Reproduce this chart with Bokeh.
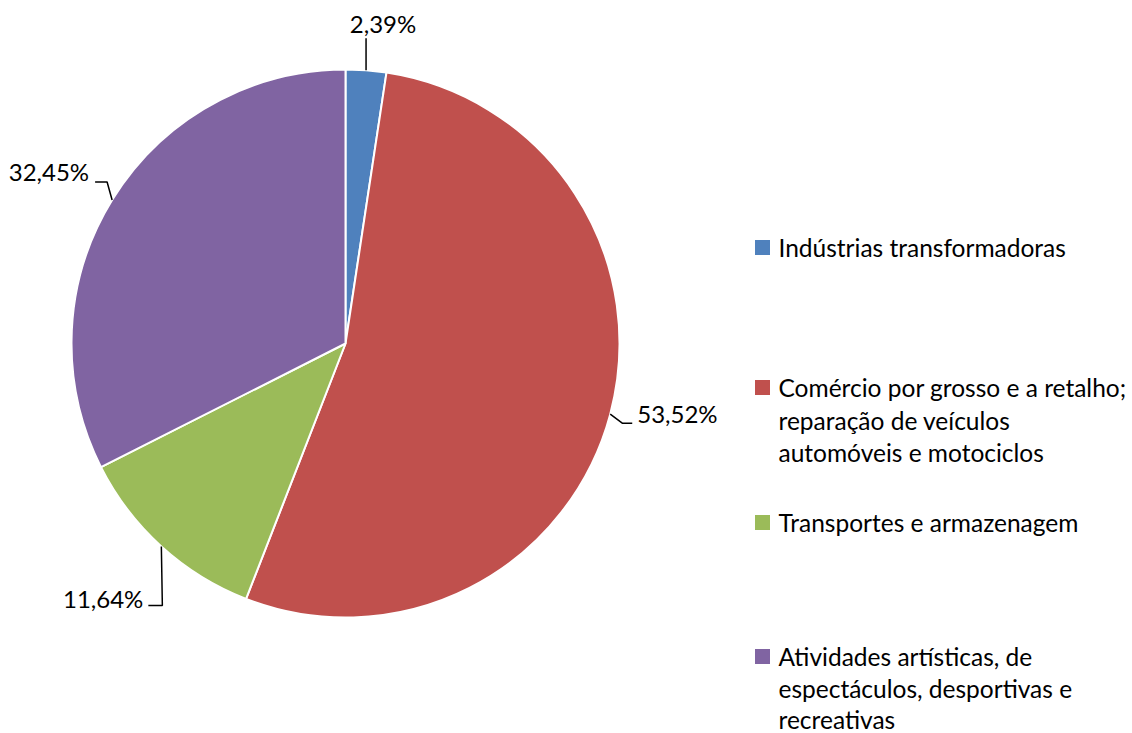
import math
from bokeh.plotting import figure
from bokeh.models import Range1d, ColumnDataSource
from bokeh.core.properties import value
from bokeh.embed import file_html
from bokeh.resources import INLINE

# ---- data ----
categories = [
    "Indústrias transformadoras",
    "Comércio por grosso e a retalho;\nreparação de veículos\nautomóveis e motociclos",
    "Transportes e armazenagem",
    "Atividades artísticas, de\nespectáculos, desportivas e\nrecreativas",
]
shares = [2.39, 53.52, 11.64, 32.45]
pct_labels = ["2,39%", "53,52%", "11,64%", "32,45%"]
colors = ["#4F81BD", "#C0504D", "#9BBB59", "#8064A2"]

# ---- layout ----
W, H = 1132, 733
CX, CY, R = 345, 343, 274  # screen px (y down)
FONT = "Lato"
FS = "24px"
LFS = "24.5px"


def sy(y):
    return H - y


p = figure(width=W, height=H, output_backend="svg", toolbar_location=None,
           x_range=Range1d(0, W), y_range=Range1d(0, H),
           x_axis_type=None, y_axis_type=None, min_border=0)
p.grid.visible = False
p.outline_line_color = None
p.background_fill_color = "white"
p.border_fill_color = "white"

total = sum(shares)
starts, ends, mids = [], [], []
c = 0.0
for s in shares:
    f0 = c / total
    c += s
    f1 = c / total
    starts.append(math.pi / 2 - 2 * math.pi * f0)
    ends.append(math.pi / 2 - 2 * math.pi * f1)
    mids.append(math.pi / 2 - 2 * math.pi * (f0 + f1) / 2)

src = ColumnDataSource(dict(start=starts, end=ends, color=colors))
p.wedge(x=CX, y=sy(CY), radius=R, start_angle="start", end_angle="end",
        direction="clock", fill_color="color", line_color="white",
        line_width=2, source=src)

# leader lines / label placement (offsets in px relative to arc point, y down)
leader_style = [
    dict(pts=[(0, -32)], lab=(17, -47), align="center"),
    dict(pts=[(12, 9), (22, 9)], lab=(27, -1), align="left"),
    dict(pts=[(1, 59), (-13, 59)], lab=(-18, 52), align="right"),
    dict(pts=[(-5, -18), (-17, -18)], lab=(-23, -28), align="right"),
]

for i, st in enumerate(leader_style):
    ax = CX + R * math.cos(mids[i])
    ay = CY - R * math.sin(mids[i])
    xs = [ax] + [ax + dx for dx, dy in st["pts"]]
    ys = [sy(ay)] + [sy(ay + dy) for dx, dy in st["pts"]]
    p.line(xs, ys, line_color="black", line_width=1.5)
    lx, ly = ax + st["lab"][0], ay + st["lab"][1]
    p.text(x=[lx], y=[sy(ly)], text=[pct_labels[i]], text_font=value(FONT),
           text_font_size=FS, text_align=st["align"],
           text_baseline="middle", text_color="black")

# legend
leg_x_sq, leg_x_txt = 762, 778
leg_first_center = [247, 387, 522, 656]
line_gap = 32.5
for i, cat in enumerate(categories):
    b = leg_first_center[i]
    p.rect(x=[leg_x_sq], y=[sy(b)], width=15, height=15,
           fill_color=colors[i], line_color=None)
    for j, ln in enumerate(cat.split("\n")):
        p.text(x=[leg_x_txt], y=[sy(b + j * (line_gap if i < 3 else 31.5))],
               text=[ln], text_font=value(FONT), text_font_size=LFS,
               text_align="left", text_baseline="middle", text_color="black")

open("out.html", "w").write(file_html(p, INLINE))
